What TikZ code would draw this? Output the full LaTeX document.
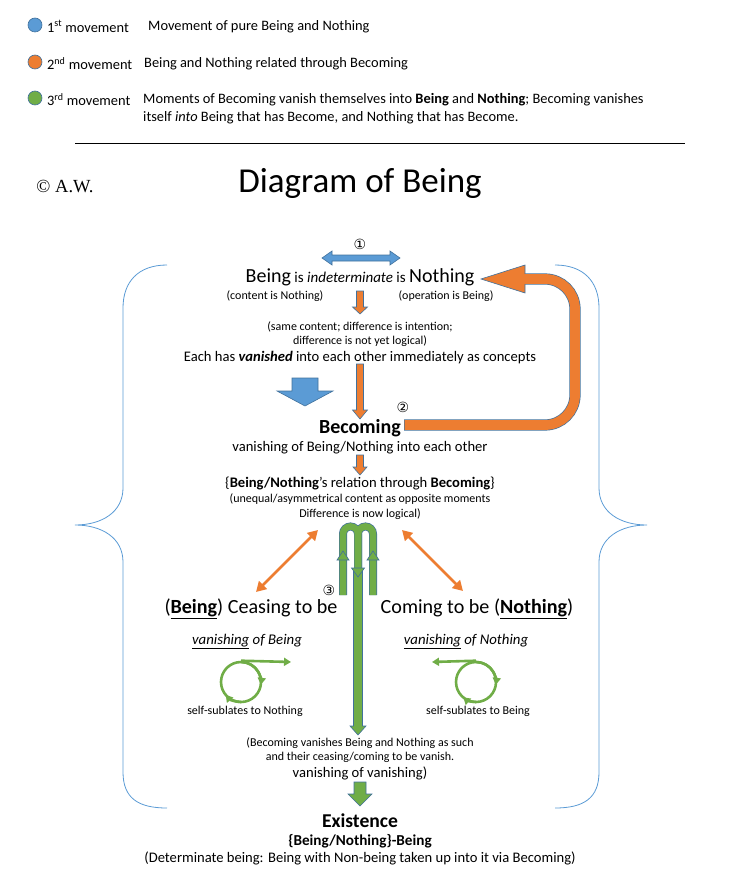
\documentclass[tikz,border=0pt]{standalone}
\usepackage{fontspec}
\setmainfont{Carlito}
\newfontfamily\symfont{DejaVu Sans}
\newfontfamily\serfont{Liberation Serif}
\usetikzlibrary{arrows.meta,positioning,calc}
\definecolor{cblue}{HTML}{5B9BD5}
\definecolor{corange}{HTML}{ED7D31}
\definecolor{cgreen}{HTML}{70AD47}
\definecolor{edge}{HTML}{41719C}
\newcommand{\sz}[1]{\fontsize{#1}{#1}\selectfont}
% downward block arrow: from, tip, fill, shaft half, head half, head length
\newcommand{\blockar}[6]{%
  \filldraw[blk,fill=#3] let \p1=(#1), \p2=(#2) in
    (\x1-#4pt,\y1) -- (\x1+#4pt,\y1) -- (\x1+#4pt,\y2+#6pt) -- (\x1+#5pt,\y2+#6pt)
    -- (\x2,\y2) -- (\x1-#5pt,\y2+#6pt) -- (\x1-#4pt,\y2+#6pt) -- cycle;}
\tikzset{
  lbl/.style={inner sep=0pt,align=center,yshift=-1.5pt},
  leg/.style={lbl,font=\sz{14.4}},
  sm/.style={lbl,font=\sz{12}},
  md/.style={lbl,font=\sz{14.6}},
  big/.style={lbl,font=\sz{20.1}},
  num/.style={lbl,font=\symfont\sz{14}},
  dot/.style={circle,draw=edge,line width=0.6pt,minimum size=14pt,inner sep=0pt},
  blk/.style={draw=edge,line width=0.6pt},
  brc/.style={draw=cblue,line width=0.8pt},
  oar/.style={draw=corange,line width=2.8pt,{Triangle[length=10pt,width=11pt]}-{Triangle[length=10pt,width=11pt]}},
  gln/.style={draw=cgreen,line width=2.6pt},
  gtip/.style={gln,-{Triangle[length=7pt,width=8pt]}},
}
\begin{document}
\begin{tikzpicture}[x=1pt,y=1pt]
\useasboundingbox (0,0) rectangle (729,-893);
% legend
\node[dot,fill=cblue] (d1) at (35,-25) {};
\node[leg,anchor=west] (m1) at (47,-25) {1\textsuperscript{st} movement};
\node[leg,anchor=west] (t1) at (148,-25) {Movement of pure Being and Nothing};
\node[dot,fill=corange] (d2) at (35,-62) {};
\node[leg,anchor=west] (m2) at (47,-62) {2\textsuperscript{nd} movement};
\node[leg,anchor=west] (t2) at (144,-62) {Being and Nothing related through Becoming};
\node[dot,fill=cgreen] (d3) at (35,-98) {};
\node[leg,anchor=west] (m3) at (47,-98) {3\textsuperscript{rd} movement};
\node[leg,anchor=west] (t3) at (143,-98) {Moments of Becoming vanish themselves into \textbf{Being} and \textbf{Nothing}; Becoming vanishes};
\node[leg,anchor=west] (t3b) at (143,-116) {itself \textit{into} Being that has Become, and Nothing that has Become.};
\draw[line width=0.8pt] (75,-143) -- (685,-143);
% title
\node[lbl,font=\serfont\sz{18.5}] (cr) at (65,-185) {© A.W.};
\node[lbl,font=\sz{35}] (ttl) at (360,-182) {Diagram of Being};
% braces
\draw[brc] (167,-265) .. controls (138,-265) and (123,-282) .. (123,-308) -- (123,-488)
  .. controls (123,-512) and (102,-525) .. (75,-525)
  .. controls (102,-525) and (123,-538) .. (123,-562) -- (123,-772)
  .. controls (123,-798) and (138,-808) .. (167,-808);
\draw[brc] (555,-265) .. controls (584,-265) and (599,-282) .. (599,-308) -- (599,-488)
  .. controls (599,-512) and (620,-525) .. (647,-525)
  .. controls (620,-525) and (599,-538) .. (599,-562) -- (599,-772)
  .. controls (599,-798) and (584,-808) .. (555,-808);
% first movement
\node[num] (n1) at (360,-243) {①};
\coordinate (ba1) at (322,-258);
\coordinate (ba2) at (400,-258);
\filldraw[blk,fill=cblue] let \p1=(ba1), \p2=(ba2) in
  (\p1) -- (\x1+10pt,\y1+7pt) -- (\x1+10pt,\y1+3pt) -- (\x2-10pt,\y1+3pt) -- (\x2-10pt,\y1+7pt)
  -- (\p2) -- (\x2-10pt,\y1-7pt) -- (\x2-10pt,\y1-3pt) -- (\x1+10pt,\y1-3pt) -- (\x1+10pt,\y1-7pt) -- cycle;
\node[lbl,font=\sz{15}] (bn) at (360,-276) {{\sz{20}Being} is \textit{indeterminate} is {\sz{20}Nothing}};
\node[sm] (cn) at (275,-295) {(content is Nothing)};
\node[sm] (op) at (446,-295) {(operation is Being)};
\coordinate (a1) at (360,-291);
\coordinate (a1t) at (360,-314);
\blockar{a1}{a1t}{corange}{3.5}{7.5}{7}
\node[sm] (sc) at (360,-325) {(same content; difference is intention;};
\node[sm] (sc2) at (360,-340) {difference is not yet logical)};
\node[md] (eh) at (360,-356) {Each has \textbf{\textit{vanished}} into each other immediately as concepts};
\coordinate (a2) at (360,-364);
\coordinate (a2t) at (360,-419);
\blockar{a2}{a2t}{corange}{3.5}{7.5}{9}
\coordinate (bb) at (305,-378);
\coordinate (bbt) at (305,-406);
\blockar{bb}{bbt}{cblue}{13}{28}{15}
% becoming
\node[lbl,font=\bfseries\sz{20}] (bec) at (360,-427) {Becoming};
\node[num] (n2) at (403,-406) {②};
\node[md] (vb) at (360,-446) {vanishing of Being/Nothing into each other};
\coordinate (lp1) at (404,-425);
\coordinate (lpt) at (481,-279);
\draw[edge,line width=11.2pt,rounded corners=30pt] (lp1) -- (575,-425) -- (575,-279) -- (524,-279);
\filldraw[blk,fill=corange] (525,-265) -- (lpt) -- (525,-293) -- cycle;
\draw[corange,line width=9.8pt,rounded corners=30pt,shorten <=0.7pt] (lp1) -- (575,-425) -- (575,-279) -- (522,-279);
\coordinate (a3) at (360,-455);
\coordinate (a3t) at (360,-475);
\blockar{a3}{a3t}{corange}{3.5}{7}{8}
\node[md] (rel) at (360,-482) {\{\textbf{Being/Nothing}’s relation through \textbf{Becoming}\}};
\node[sm] (ua) at (360,-498) {(unequal/asymmetrical content as opposite moments};
\node[sm] (ua2) at (360,-513) {Difference is now logical)};
% third movement
\coordinate (g0) at (358,-570);
\coordinate (gt) at (358,-735);
\blockar{g0}{gt}{cgreen}{4.5}{8}{9}
\draw[edge,line width=8pt] (343,-595) -- (343,-534) arc[start angle=180,end angle=0,radius=7.5] -- (358,-568);
\draw[edge,line width=8pt] (373,-595) -- (373,-534) arc[start angle=0,end angle=180,radius=7.5] -- (358,-568);
\draw[cgreen,line width=6.6pt] (343,-595) -- (343,-534) arc[start angle=180,end angle=0,radius=7.5] -- (358,-568);
\draw[cgreen,line width=6.6pt] (373,-595) -- (373,-534) arc[start angle=0,end angle=180,radius=7.5] -- (358,-568);
\filldraw[blk,fill=cgreen] (337,-560) -- (343,-551) -- (349,-560) -- cycle;
\filldraw[blk,fill=cgreen] (367,-560) -- (373,-551) -- (379,-560) -- cycle;
\filldraw[blk,fill=cgreen] (351.5,-568) -- (358,-577) -- (364.5,-568) -- cycle;
\node[num] (n3) at (329,-589) {③};
\coordinate (ol1) at (318,-530);
\coordinate (ol2) at (256,-592);
\coordinate (or1) at (402,-530);
\coordinate (or2) at (463,-591);
\draw[oar] (ol1) -- (ol2);
\draw[oar] (or1) -- (or2);
\node[big] (ce) at (251,-607) {(\underline{\textbf{Being}}) Ceasing to be};
\node[big] (co) at (477,-607) {Coming to be (\underline{\textbf{Nothing}})};
\node[md,font=\itshape\sz{14.8}] (vl) at (247,-640) {\underline{vanishing} of Being};
\node[md,font=\itshape\sz{14.8}] (vr) at (466,-640) {\underline{vanishing} of Nothing};
\node[circle,gln,minimum size=40pt,inner sep=0pt] (cl) at (241,-682) {};
\node[circle,gln,minimum size=40pt,inner sep=0pt] (cr2) at (476,-682) {};
\coordinate (clt) at (291,-662);
\coordinate (crt) at (432,-662);
\draw[gtip] (cl.north) -- (clt);
\draw[gtip] (cr2.north) -- (crt);
\draw[gtip] (cl.center) ++(90:20) arc[start angle=90,end angle=-8,radius=20];
\draw[gtip] (cl.center) ++(-90:20) arc[start angle=-90,end angle=-140,radius=20];
\draw[gtip] (cr2.center) ++(90:20) arc[start angle=90,end angle=-8,radius=20];
\draw[gtip] (cr2.center) ++(-90:20) arc[start angle=-90,end angle=-130,radius=20];
\node[sm] (sl) at (245,-710) {self-sublates to Nothing};
\node[sm] (sr) at (478,-710) {self-sublates to Being};
% bottom
\node[sm] (bv) at (360,-742) {(Becoming vanishes Being and Nothing as such};
\node[sm] (bv2) at (360,-756) {and their ceasing/coming to be vanish.};
\node[md] (vv) at (360,-772) {vanishing of vanishing)};
\coordinate (a4) at (360,-782);
\coordinate (a4t) at (360,-806);
\blockar{a4}{a4t}{cgreen}{6}{12}{12}
\node[lbl,font=\bfseries\sz{19.6}] (ex) at (360,-819) {Existence};
\node[lbl,font=\bfseries\sz{15.2}] (bnb) at (360,-840) {\{Being/Nothing\}-Being};
\node[md] (det) at (360,-857) {(Determinate being: Being with Non-being taken up into it via Becoming)};
\end{tikzpicture}
\end{document}
